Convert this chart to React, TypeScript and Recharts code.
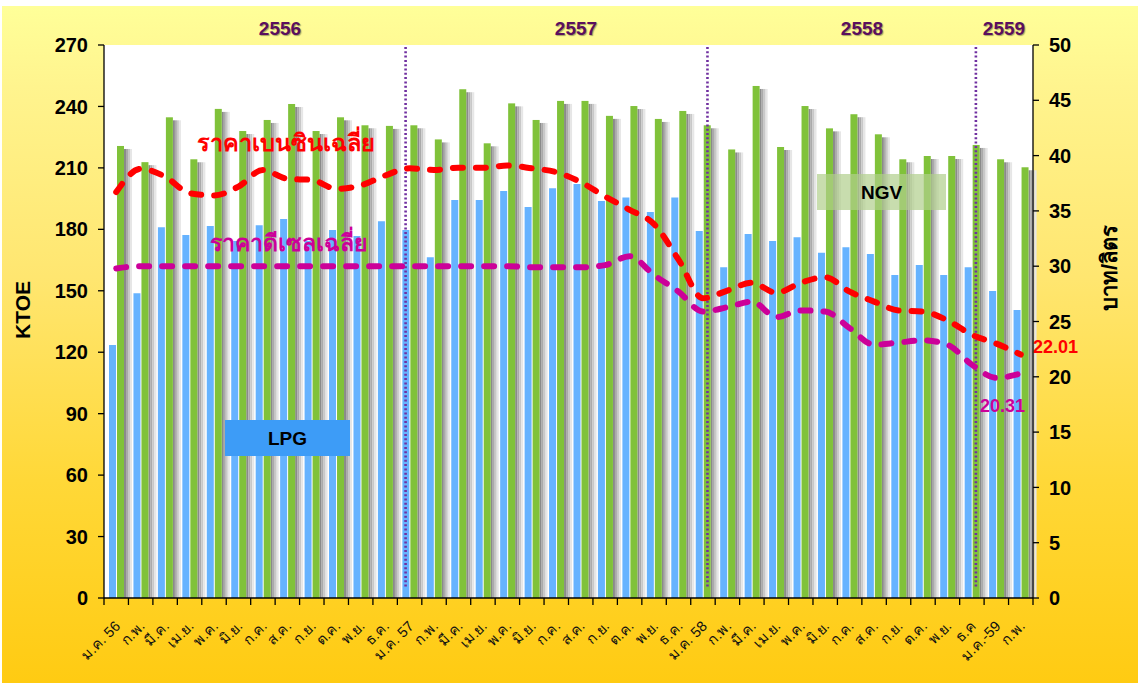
import React from "react"
import {
  ComposedChart,
  Bar,
  Line,
  XAxis,
  YAxis,
  CartesianGrid,
  ReferenceLine,
} from "recharts"

const MONTHS = [
  "ม.ค. 56", "ก.พ.", "มี.ค.", "เม.ย.", "พ.ค.", "มิ.ย.", "ก.ค.", "ส.ค.", "ก.ย.", "ต.ค.", "พ.ย.", "ธ.ค.",
  "ม.ค. 57", "ก.พ.", "มี.ค.", "เม.ย.", "พ.ค.", "มิ.ย.", "ก.ค.", "ส.ค.", "ก.ย.", "ต.ค.", "พ.ย.", "ธ.ค.",
  "ม.ค. 58", "ก.พ.", "มี.ค.", "เม.ย.", "พ.ค.", "มิ.ย.", "ก.ค.", "ส.ค.", "ก.ย.", "ต.ค.", "พ.ย.", "ธ.ค",
  "ม.ค.-59", "ก.พ.",
]

// KTOE
const LPG = [
  123.5, 148.8, 181, 177.2, 181.6, 174.3, 182, 185, 174.3, 179.7, 176.8, 184,
  179.7, 166.4, 194.3, 194.3, 198.7, 190.9, 200, 202.1, 193.8, 195.6, 188.5, 195.6,
  179.2, 161.5, 177.7, 174.3, 176.1, 168.6, 171.2, 168, 157.7, 162.6, 157.7, 161.5,
  149.9, 140.6,
]
const NGV = [
  220.7, 212.8, 234.7, 214.2, 238.8, 228, 233.4, 241.2, 228, 234.7, 230.8, 230.5,
  230.8, 223.9, 248.4, 222, 241.5, 233.4, 242.7, 242.7, 235.4, 240.2, 233.9, 237.8,
  230.8, 219, 250, 220.2, 240.2, 229.3, 236.2, 226.4, 214.2, 215.8, 215.8, 221.2,
  214.2, 210.3,
]

// บาท/ลิตร
const BENZIN = [
  36.7, 38.8, 38.1, 36.6, 36.4, 37.2, 38.7, 37.9, 37.8, 37.0, 37.3, 38.2,
  38.85, 38.7, 38.9, 38.9, 39.1, 38.85, 38.5, 37.6, 36.3, 35.1, 33.8, 30.6,
  27.1, 27.8, 28.5, 27.6, 28.5, 29.0, 27.7, 26.8, 26.0, 25.9, 25.1, 23.8,
  23.0, 22.01,
]
const DIESEL = [
  29.8, 30.0, 30.0, 30.0, 30.0, 30.0, 30.0, 30.0, 30.0, 30.0, 30.0, 30.0,
  30.0, 30.0, 30.0, 30.0, 30.0, 29.9, 29.9, 29.9, 30.1, 30.9, 29.2, 27.7,
  25.9, 26.3, 26.8, 25.4, 26.0, 25.9, 24.4, 22.9, 23.1, 23.3, 22.9, 21.1,
  19.9, 20.31,
]

// first month of each new year, and how far the dotted divider sits off the band centre
const YEAR_STARTS = [
  { idx: 12, shift: -4 },
  { idx: 24, shift: 4.5 },
  { idx: 35, shift: 4 },
]
const LEFT_TICKS = [0, 30, 60, 90, 120, 150, 180, 210, 240, 270]
const RIGHT_TICKS = [0, 5, 10, 15, 20, 25, 30, 35, 40, 45, 50]
const YEARS = [
  { label: "2556", x: 280 },
  { label: "2557", x: 576 },
  { label: "2558", x: 862 },
  { label: "2559", x: 1004 },
]

const W = 1136
const H = 677
const PLOT_LEFT = 102
const PLOT_RIGHT = 1031
const PLOT_BOTTOM = 592
const BAND = (PLOT_RIGHT - PLOT_LEFT) / MONTHS.length

const FONT = "'Liberation Sans', Arial, Tahoma, sans-serif"

const data = MONTHS.map((m, i) => ({
  i,
  m,
  lpg: LPG[i],
  ngv: NGV[i],
  benzin: BENZIN[i],
  diesel: DIESEL[i],
}))

// eslint-disable-next-line @typescript-eslint/no-explicit-any
function MonthTick({ x, payload }: any) {
  const i = payload.value as number
  const bx = x - BAND / 2
  const ax = x + 5
  const ay = PLOT_BOTTOM + 29
  return (
    <g>
      <line x1={bx} x2={bx} y1={PLOT_BOTTOM} y2={PLOT_BOTTOM + 7} stroke="#000" strokeWidth={1.3} />
      {i === MONTHS.length - 1 && (
        <line x1={x + BAND / 2} x2={x + BAND / 2} y1={PLOT_BOTTOM} y2={PLOT_BOTTOM + 7} stroke="#000" strokeWidth={1.3} />
      )}
      <text
        x={ax}
        y={ay}
        transform={`rotate(-45, ${ax}, ${ay})`}
        textAnchor="end"
        fontSize={14.5}
        fill="#111"
        fontFamily={FONT}
      >
        {MONTHS[i]}
      </text>
    </g>
  )
}

// green bar with the grey drop shadow on its right
// eslint-disable-next-line @typescript-eslint/no-explicit-any
function ShadowBar({ x, y, width, height, fill }: any) {
  if (!height || height <= 0) return null
  const shades = ["#8a8a8a", "#aaaaaa", "#c8c8c8", "#e6e6e6"]
  return (
    <g>
      {shades.map((c, k) => (
        <rect key={k} x={x + width + k * 2} y={y + 3} width={2} height={height - 3} fill={c} />
      ))}
      <rect x={x} y={y} width={width} height={height} fill={fill} />
    </g>
  )
}

// eslint-disable-next-line @typescript-eslint/no-explicit-any
function YearLine({ x1, x2, y1, y2, shift }: any) {
  const top = Math.min(y1, y2)
  const bottom = Math.max(y1, y2)
  return (
    <line
      x1={x1 + shift}
      x2={x2 + shift}
      y1={top + 2}
      y2={bottom - 10}
      stroke="#7030A0"
      strokeWidth={2.6}
      strokeDasharray="2 2.3"
    />
  )
}

const abs = (style: React.CSSProperties): React.CSSProperties => ({
  position: "absolute",
  pointerEvents: "none",
  whiteSpace: "nowrap",
  fontFamily: FONT,
  fontWeight: "bold",
  lineHeight: 1,
  ...style,
})

export default function App() {
  return (
    <div style={{ position: "absolute", left: 0, top: 0, width: 1138, height: 683, background: "#fff" }}>
      <div
        style={{
          position: "absolute",
          left: 2,
          top: 6,
          width: W,
          height: H,
          background:
            "linear-gradient(180deg, #FFFF99 0%, #FFF48E 12%, #FFE670 40%, #FFD838 70%, #FFCB12 100%)",
        }}
      >
        <ComposedChart
          width={W}
          height={H}
          data={data}
          margin={{ top: 39, right: 5, left: 2, bottom: 25 }}
          barSize={7}
          barGap={1}
        >
          <CartesianGrid yAxisId="left" fill="#ffffff" horizontal={false} vertical={false} />
          <XAxis
            dataKey="i"
            type="category"
            interval={0}
            height={60}
            tickLine={false}
            axisLine={{ stroke: "#000", strokeWidth: 1.3 }}
            tick={<MonthTick />}
          />
          <YAxis
            yAxisId="left"
            domain={[0, 270]}
            ticks={LEFT_TICKS}
            width={100}
            tickSize={6}
            tickMargin={10}
            axisLine={{ stroke: "#000", strokeWidth: 1.3 }}
            tickLine={{ stroke: "#000", strokeWidth: 1.3 }}
            tick={{ fontSize: 20, fontWeight: "bold", fill: "#000", fontFamily: FONT }}
          />
          <YAxis
            yAxisId="right"
            orientation="right"
            domain={[0, 50]}
            ticks={RIGHT_TICKS}
            width={100}
            tickSize={6}
            tickMargin={10}
            axisLine={{ stroke: "#000", strokeWidth: 1.3 }}
            tickLine={{ stroke: "#000", strokeWidth: 1.3 }}
            tick={{ fontSize: 20, fontWeight: "bold", fill: "#000", fontFamily: FONT }}
          />
          <Bar yAxisId="left" dataKey="lpg" fill="#66B3FF" isAnimationActive={false} />
          <Bar yAxisId="left" dataKey="ngv" fill="#80C23A" shape={<ShadowBar />} isAnimationActive={false} />
          {YEAR_STARTS.map((ys) => (
            <ReferenceLine
              key={ys.idx}
              yAxisId="left"
              x={ys.idx}
              stroke="#7030A0"
              shape={(p: any) => <YearLine {...p} shift={ys.shift} />}
            />
          ))}
          <Line
            yAxisId="right"
            dataKey="benzin"
            type="monotone"
            stroke="#FF0000"
            strokeWidth={6}
            strokeDasharray="10 13"
            strokeLinecap="round"
            dot={false}
            activeDot={false}
            isAnimationActive={false}
          />
          <Line
            yAxisId="right"
            dataKey="diesel"
            type="monotone"
            stroke="#CC0099"
            strokeWidth={6}
            strokeDasharray="10 13"
            strokeLinecap="round"
            dot={false}
            activeDot={false}
            isAnimationActive={false}
          />
        </ComposedChart>
      </div>

      {YEARS.map((yr) => (
        <div
          key={yr.label}
          style={abs({
            left: yr.x - 40,
            width: 80,
            top: 19,
            textAlign: "center",
            fontSize: 19,
            color: "#5A0F5E",
            textShadow: "1px 1px 1px rgba(0,0,0,0.35)",
          })}
        >
          {yr.label}
        </div>
      ))}

      <div style={abs({ left: 22, top: 310, fontSize: 21, color: "#000", transform: "translate(-50%, -50%) rotate(-90deg)" })}>
        KTOE
      </div>
      <div style={abs({ left: 1110, top: 268, fontSize: 22, color: "#000", transform: "translate(-50%, -50%) rotate(-90deg)" })}>
        บาท/ลิตร
      </div>

      <div style={abs({ left: 197, top: 132, fontSize: 23.5, color: "#FF0000" })}>ราคาเบนซินเฉลี่ย</div>
      <div style={abs({ left: 210, top: 232, fontSize: 23, color: "#CC0099" })}>ราคาดีเซลเฉลี่ย</div>

      <div
        style={abs({
          left: 225,
          top: 420,
          width: 125,
          height: 36,
          background: "#3D9CF7",
          color: "#000",
          fontSize: 19,
          display: "flex",
          alignItems: "center",
          justifyContent: "center",
        })}
      >
        LPG
      </div>
      <div
        style={abs({
          left: 817,
          top: 174,
          width: 129,
          height: 36,
          background: "rgba(176, 206, 140, 0.7)",
          color: "#000",
          fontSize: 19,
          display: "flex",
          alignItems: "center",
          justifyContent: "center",
        })}
      >
        NGV
      </div>

      <div style={abs({ left: 1033, top: 338, fontSize: 18, color: "#FF0000" })}>22.01</div>
      <div style={abs({ left: 980, top: 397, fontSize: 18, color: "#CC0099" })}>20.31</div>
    </div>
  )
}
